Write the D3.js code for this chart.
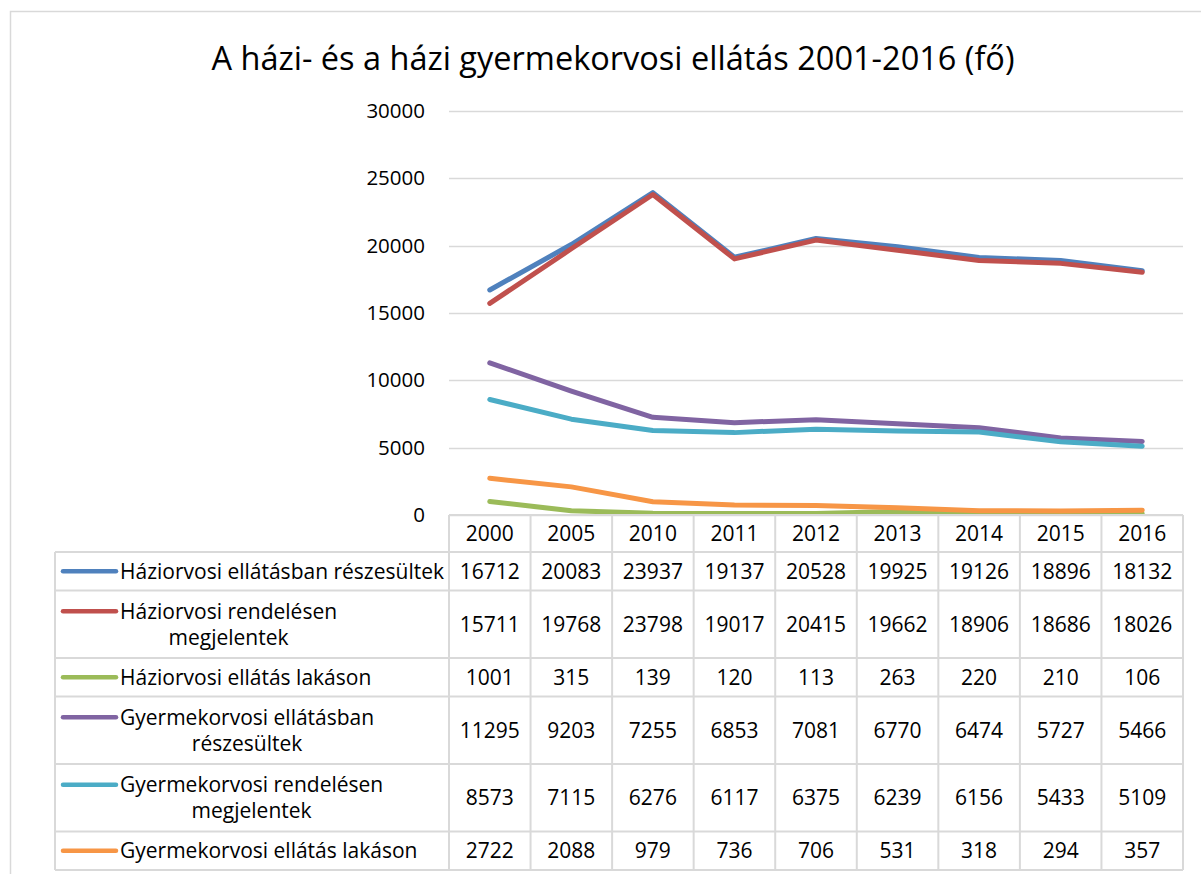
<!DOCTYPE html>
<html>
<head>
<meta charset="utf-8">
<script src="https://cdn.jsdelivr.net/npm/d3@7"></script>
<style>
  body { margin: 0; background: #ffffff; }
  svg text { font-family: 'Open Sans', Lato, sans-serif; fill: #000000; }
</style>
</head>
<body>
<div class="chart-container"></div>
<script>

const years = ['2000', '2005', '2010', '2011', '2012', '2013', '2014', '2015', '2016'];

const seriesNames = [
	'Háziorvosi ellátásban részesültek',
	'Háziorvosi rendelésen\nmegjelentek',
	'Háziorvosi ellátás lakáson',
	'Gyermekorvosi ellátásban\nrészesültek',
	'Gyermekorvosi rendelésen\nmegjelentek',
	'Gyermekorvosi ellátás lakáson'
];

const haziReszesultek = [16712, 20083, 23937, 19137, 20528, 19925, 19126, 18896, 18132];
const haziRendelesen = [15711, 19768, 23798, 19017, 20415, 19662, 18906, 18686, 18026];
const haziLakason = [1001, 315, 139, 120, 113, 263, 220, 210, 106];
const gyermekReszesultek = [11295, 9203, 7255, 6853, 7081, 6770, 6474, 5727, 5466];
const gyermekRendelesen = [8573, 7115, 6276, 6117, 6375, 6239, 6156, 5433, 5109];
const gyermekLakason = [2722, 2088, 979, 736, 706, 531, 318, 294, 357];

const yTicks = [0, 5000, 10000, 15000, 20000, 25000, 30000];

const colors = ['#4F81BD', '#C0504D', '#9BBB59', '#8064A2', '#4BACC6', '#F79646'];

const series = [haziReszesultek, haziRendelesen, haziLakason, gyermekReszesultek, gyermekRendelesen, gyermekLakason]
.map((values, i) => ({ name: seriesNames[i], color: colors[i], values: values }));

const width = 1201;
const height = 874;

const plotLeft = 449;
const plotRight = 1183;
const plotTop = 111;
const plotBottom = 515;

const tableLeft = 55;
const headerHeight = 37;
const lineRow = 38.5;
const twoLineRow = 67.5;
const fontSize = '21px';

const svg = d3.select('.chart-container')
.append('svg')
.attr('width', width)
.attr('height', height);

// chart frame
svg.append('rect')
.attr('x', 10.5)
.attr('y', 11.5)
.attr('width', 1200)
.attr('height', 880)
.attr('fill', 'none')
.attr('stroke', '#d9d9d9')
.attr('stroke-width', 1.5);

svg.append('text')
.attr('x', 613)
.attr('y', 70)
.attr('text-anchor', 'middle')
.style('font-size', '32.5px')
.text('A házi- és a házi gyermekorvosi ellátás 2001-2016 (fő)');

let x = d3.scaleBand()
.domain(years)
.range([plotLeft, plotRight]);

let y = d3.scaleLinear()
.domain([0, 30000])
.range([plotBottom, plotTop]);

// gridlines
svg.append('g')
.selectAll('line')
.data(yTicks)
.enter()
.append('line')
.attr('x1', plotLeft)
.attr('x2', plotRight)
.attr('y1', d => Math.round(y(d)) + 0.5)
.attr('y2', d => Math.round(y(d)) + 0.5)
.attr('stroke', '#d9d9d9')
.attr('stroke-width', 1.5);

// y axis labels
const yAxis = svg.append('g')
.attr('transform', 'translate(' + (plotLeft - 24) + ',0)')
.call(d3.axisLeft(y).tickValues(yTicks).tickSize(0).tickPadding(0).tickFormat(d3.format('d')));

yAxis.select('.domain').remove();
yAxis.selectAll('text')
.style('font-size', '20.5px')
.style('font-family', "'Open Sans', sans-serif")
.attr('fill', '#000000');

// lines
let line = d3.line()
.x((d, i) => x(years[i]) + x.bandwidth() / 2)
.y(d => y(d));

svg.append('g')
.selectAll('path')
.data(series)
.enter()
.append('path')
.attr('d', d => line(d.values))
.attr('fill', 'none')
.attr('stroke', d => d.color)
.attr('stroke-width', 5)
.attr('stroke-linejoin', 'round')
.attr('stroke-linecap', 'round');

// data table
const table = svg.append('g');
const gridColor = '#d9d9d9';

let rowTops = [];
let rowY = plotBottom + headerHeight;
series.forEach(s => {
	let h = s.name.indexOf('\n') != -1 ? twoLineRow : lineRow;
	rowTops.push({ top: rowY, height: h, s: s });
	rowY += h;
});
const tableBottom = rowY;

// header row
table.selectAll('.year-label')
.data(years)
.enter()
.append('text')
.attr('class', 'year-label')
.attr('x', d => x(d) + x.bandwidth() / 2)
.attr('y', plotBottom + headerHeight / 2)
.attr('dy', '0.36em')
.attr('text-anchor', 'middle')
.style('font-size', fontSize)
.text(d => d);

// horizontal rules
table.append('line')
.attr('x1', plotLeft).attr('x2', plotRight)
.attr('y1', plotBottom).attr('y2', plotBottom)
.attr('stroke', gridColor).attr('stroke-width', 2);

table.selectAll('.h-rule')
.data(rowTops.map(r => r.top).concat([tableBottom]))
.enter()
.append('line')
.attr('class', 'h-rule')
.attr('x1', tableLeft).attr('x2', plotRight)
.attr('y1', d => d).attr('y2', d => d)
.attr('stroke', gridColor).attr('stroke-width', 2);

// vertical rules
table.selectAll('.v-rule')
.data(years.map(d => x(d)).concat([plotRight]))
.enter()
.append('line')
.attr('class', 'v-rule')
.attr('x1', d => d).attr('x2', d => d)
.attr('y1', plotBottom).attr('y2', tableBottom)
.attr('stroke', gridColor).attr('stroke-width', 2);

table.append('line')
.attr('x1', tableLeft).attr('x2', tableLeft)
.attr('y1', plotBottom + headerHeight).attr('y2', tableBottom)
.attr('stroke', gridColor).attr('stroke-width', 2);

rowTops.forEach(r => {

	let mid = r.top + r.height / 2;
	let lines = r.s.name.split('\n');
	let lineGap = 26;
	let firstY = mid - (lines.length - 1) * lineGap / 2;

	// legend key
	table.append('line')
	.attr('x1', 63).attr('x2', 116)
	.attr('y1', firstY).attr('y2', firstY)
	.attr('stroke', r.s.color)
	.attr('stroke-width', 4.5)
	.attr('stroke-linecap', 'round');

	let label = table.append('text')
	.attr('y', firstY)
	.style('font-size', fontSize);

	let tspans = label.selectAll('tspan')
	.data(lines)
	.enter()
	.append('tspan')
	.text(d => d);

	// centre each line within the label block
	let widths = tspans.nodes().map(n => n.getComputedTextLength());
	let blockW = d3.max(widths);
	label.attr('text-anchor', 'middle');
	tspans
	.attr('x', 120 + blockW / 2)
	.attr('dy', (d, i) => i == 0 ? '0.36em' : lineGap + 'px');

	table.selectAll(null)
	.data(r.s.values)
	.enter()
	.append('text')
	.attr('x', (d, i) => x(years[i]) + x.bandwidth() / 2)
	.attr('y', mid)
	.attr('dy', '0.36em')
	.attr('text-anchor', 'middle')
	.style('font-size', fontSize)
	.text(d => d);
});

</script>
</body>
</html>
